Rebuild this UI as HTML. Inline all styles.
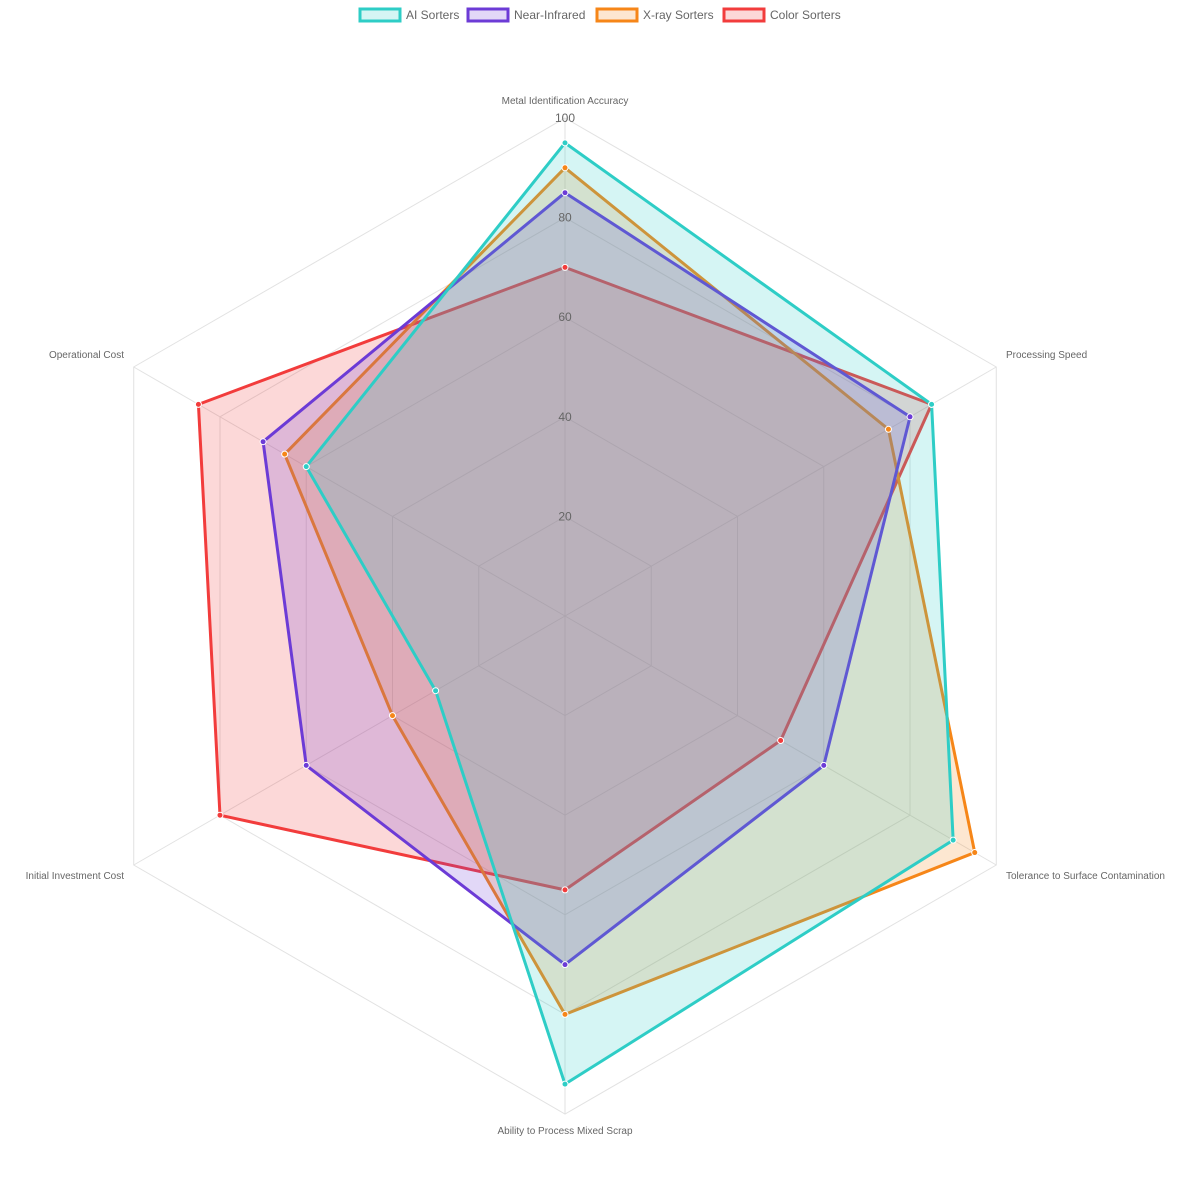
<!DOCTYPE html>
<html><head><meta charset="utf-8"><style>
html,body{margin:0;padding:0;background:#fff;}
svg{display:block;font-family:"Liberation Sans",sans-serif;}
</style></head><body>
<svg id="s" width="1201" height="1201" xmlns="http://www.w3.org/2000/svg"></svg>
<script>
const s=document.getElementById('s');
const cx=565,cy=616,R=498;
const ns='http://www.w3.org/2000/svg';
function el(t,a,txt){const e=document.createElementNS(ns,t);for(const k in a)e.setAttribute(k,a[k]);if(txt!==undefined)e.textContent=txt;s.appendChild(e);return e;}
function pt(i,v){const a=-Math.PI/2+i*Math.PI/3;const r=R*v/100;return [cx+r*Math.cos(a),cy+r*Math.sin(a)];}
for(let v=20;v<=100;v+=20){el('polygon',{points:[0,1,2,3,4,5].map(i=>pt(i,v).join(',')).join(' '),fill:'none',stroke:'#e2e2e2','stroke-width':1});}
for(let i=0;i<6;i++){const p=pt(i,100);el('line',{x1:cx,y1:cy,x2:p[0],y2:p[1],stroke:'#e2e2e2','stroke-width':1});}
const series=[
 ['AI Sorters','#2ecdc6','rgba(46,205,198,0.2)',[95,85,90,94,30,60]],
 ['Near-Infrared','#6c3bd6','rgba(108,59,214,0.2)',[85,80,60,70,60,70]],
 ['X-ray Sorters','#f68618','rgba(246,134,24,0.2)',[90,75,95,80,40,65]],
 ['Color Sorters','#f23c3c','rgba(242,60,60,0.2)',[70,85,50,55,80,85]],
];
[...series].reverse().forEach(([n,c,f,d])=>{
 el('polygon',{points:d.map((v,i)=>pt(i,v).join(',')).join(' '),fill:f,stroke:c,'stroke-width':3,'stroke-linejoin':'round'});
});
[...series].reverse().forEach(([n,c,f,d])=>{d.forEach((v,i)=>{const p=pt(i,v);el('circle',{cx:p[0],cy:p[1],r:3,fill:c,stroke:'#fff','stroke-width':1});});});
for(let v=20;v<=100;v+=20){el('text',{x:565,y:cy-R*v/100+4,'text-anchor':'middle','font-size':12,fill:'#666'},String(v));}
const labs=[['Metal Identification Accuracy',565,104,'middle'],['Processing Speed',1006,358,'start'],['Tolerance to Surface Contamination',1006,879,'start'],['Ability to Process Mixed Scrap',565,1134,'middle'],['Initial Investment Cost',124,879,'end'],['Operational Cost',124,358,'end']];
labs.forEach(([t,x,y,a])=>el('text',{x,y,'text-anchor':a,'font-size':10,fill:'#666'},t));
const leg=[[360,'AI Sorters'],[468,'Near-Infrared'],[597,'X-ray Sorters'],[724,'Color Sorters']];
leg.forEach(([x,t],k)=>{const [n,c,f]=series[k];el('rect',{x:x,y:9,width:40,height:12,fill:f,stroke:c,'stroke-width':3});el('text',{x:x+46,y:19,'font-size':12,fill:'#666'},t);});
</script>
</body></html>
